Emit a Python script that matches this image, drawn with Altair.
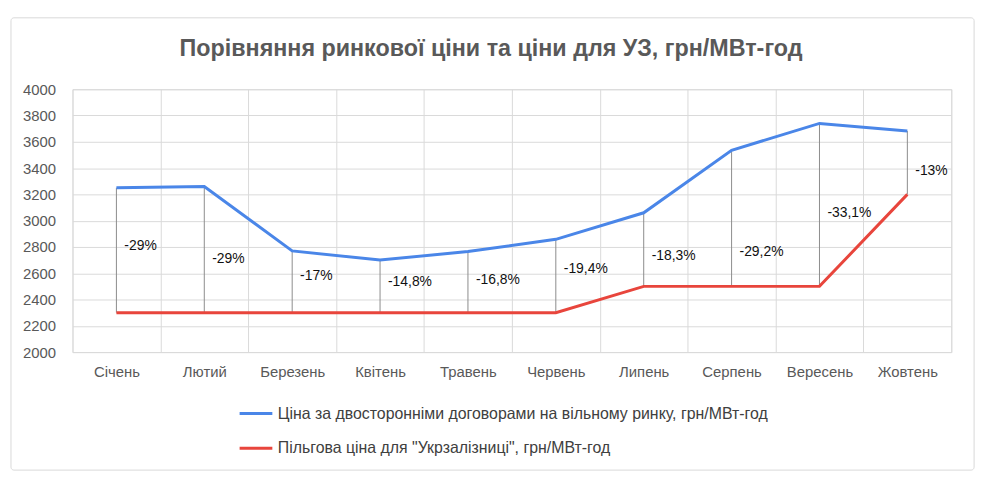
import altair as alt
import pandas as pd

months = ["Січень", "Лютий", "Березень", "Квітень", "Травень", "Червень",
          "Липень", "Серпень", "Вересень", "Жовтень"]
market = [3250, 3260, 2770, 2700, 2765, 2858, 3060, 3535, 3740, 3682]
uz = [2300, 2300, 2300, 2300, 2300, 2300, 2500, 2500, 2500, 3200]
diff_labels = ["-29%", "-29%", "-17%", "-14,8%", "-16,8%", "-19,4%",
               "-18,3%", "-29,2%", "-33,1%", "-13%"]
label_y = [2810, 2710, 2575, 2533, 2545, 2633, 2734, 2760, 3055, 3375]
y_ticks = [2000, 2200, 2400, 2600, 2800, 3000, 3200, 3400, 3600, 3800, 4000]

title_text = "Порівняння ринкової ціни та ціни для УЗ, грн/МВт-год"
s_market = "Ціна за двосторонніми договорами на вільному ринку, грн/МВт-год"
s_uz = "Пільгова ціна для \"Укрзалізниці\", грн/МВт-год"

rows = []
for m, a, b in zip(months, market, uz):
    rows.append({"month": m, "series": s_market, "value": a})
    rows.append({"month": m, "series": s_uz, "value": b})
long_df = pd.DataFrame(rows)
wide_df = pd.DataFrame({"month": months, "market": market, "uz": uz,
                        "label": diff_labels, "ly": label_y})
title_df = pd.DataFrame({"t": [title_text]})

FONT = "Liberation Sans"

x_enc = alt.X("month:N", sort=months, title=None,
              scale=alt.Scale(type="band", paddingInner=0, paddingOuter=0),
              axis=alt.Axis(tickBand="extent", grid=True, ticks=False, domain=False,
                            labelAngle=0, labelPadding=13, labelFontSize=15,
                            labelColor="#595959", labelFont=FONT,
                            gridColor="#dadada"))
y_scale = alt.Scale(domain=[2000, 4000], nice=False, zero=False)
y_axis = alt.Axis(values=y_ticks, ticks=False, domain=False, format="d",
                  labelOverlap=False, labelFontSize=15, labelColor="#595959",
                  labelFont=FONT, labelPadding=17, gridColor="#dadada")

frame = alt.Chart(title_df).mark_rect(
    fill="white", fillOpacity=0, stroke="#d9d9d9", strokeWidth=1,
    cornerRadius=3, clip=False
).encode(x=alt.value(-62), x2=alt.value(909), y=alt.value(-72), y2=alt.value(384))

title = alt.Chart(title_df).mark_text(
    fontSize=23.5, font=FONT, fontWeight="bold", color="#595959",
    align="center", baseline="middle"
).encode(x=alt.value(422), y=alt.value(-41), text="t:N")

drops = alt.Chart(wide_df).mark_rule(color="#8c8c8c", strokeWidth=1).encode(
    x=x_enc,
    y=alt.Y("uz:Q", scale=y_scale, axis=y_axis, title=None),
    y2="market:Q",
)

lines = alt.Chart(long_df).mark_line(strokeWidth=3).encode(
    x=alt.X("month:N", sort=months),
    y=alt.Y("value:Q", scale=y_scale, axis=y_axis, title=None),
    color=alt.Color("series:N", sort=[s_market, s_uz],
                    scale=alt.Scale(domain=[s_market, s_uz],
                                    range=["#4a86e8", "#e8453c"]),
                    legend=alt.Legend(title=None, orient="none", legendX=167,
                                      legendY=309, direction="vertical",
                                      symbolType="stroke", symbolStrokeWidth=3,
                                      symbolSize=1089, labelFontSize=16,
                                      labelFont=FONT, labelColor="#404040",
                                      labelLimit=700, labelOffset=4,
                                      rowPadding=9)),
)

texts = alt.Chart(wide_df).mark_text(
    align="left", baseline="middle", dx=8, fontSize=14, font=FONT, color="#111111"
).encode(
    x=alt.X("month:N", sort=months),
    y=alt.Y("ly:Q", scale=y_scale, axis=y_axis, title=None),
    text="label:N",
)

chart = alt.layer(frame, title, drops, lines, texts).properties(
    width=886, height=265,
    autosize=alt.AutoSizeParams(type="none"),
    padding={"left": 65, "top": 80, "right": 36, "bottom": 120},
).configure_view(stroke="#dadada").configure(background="white")

chart.save("out.html", embed_options={"renderer": "svg", "actions": False})
